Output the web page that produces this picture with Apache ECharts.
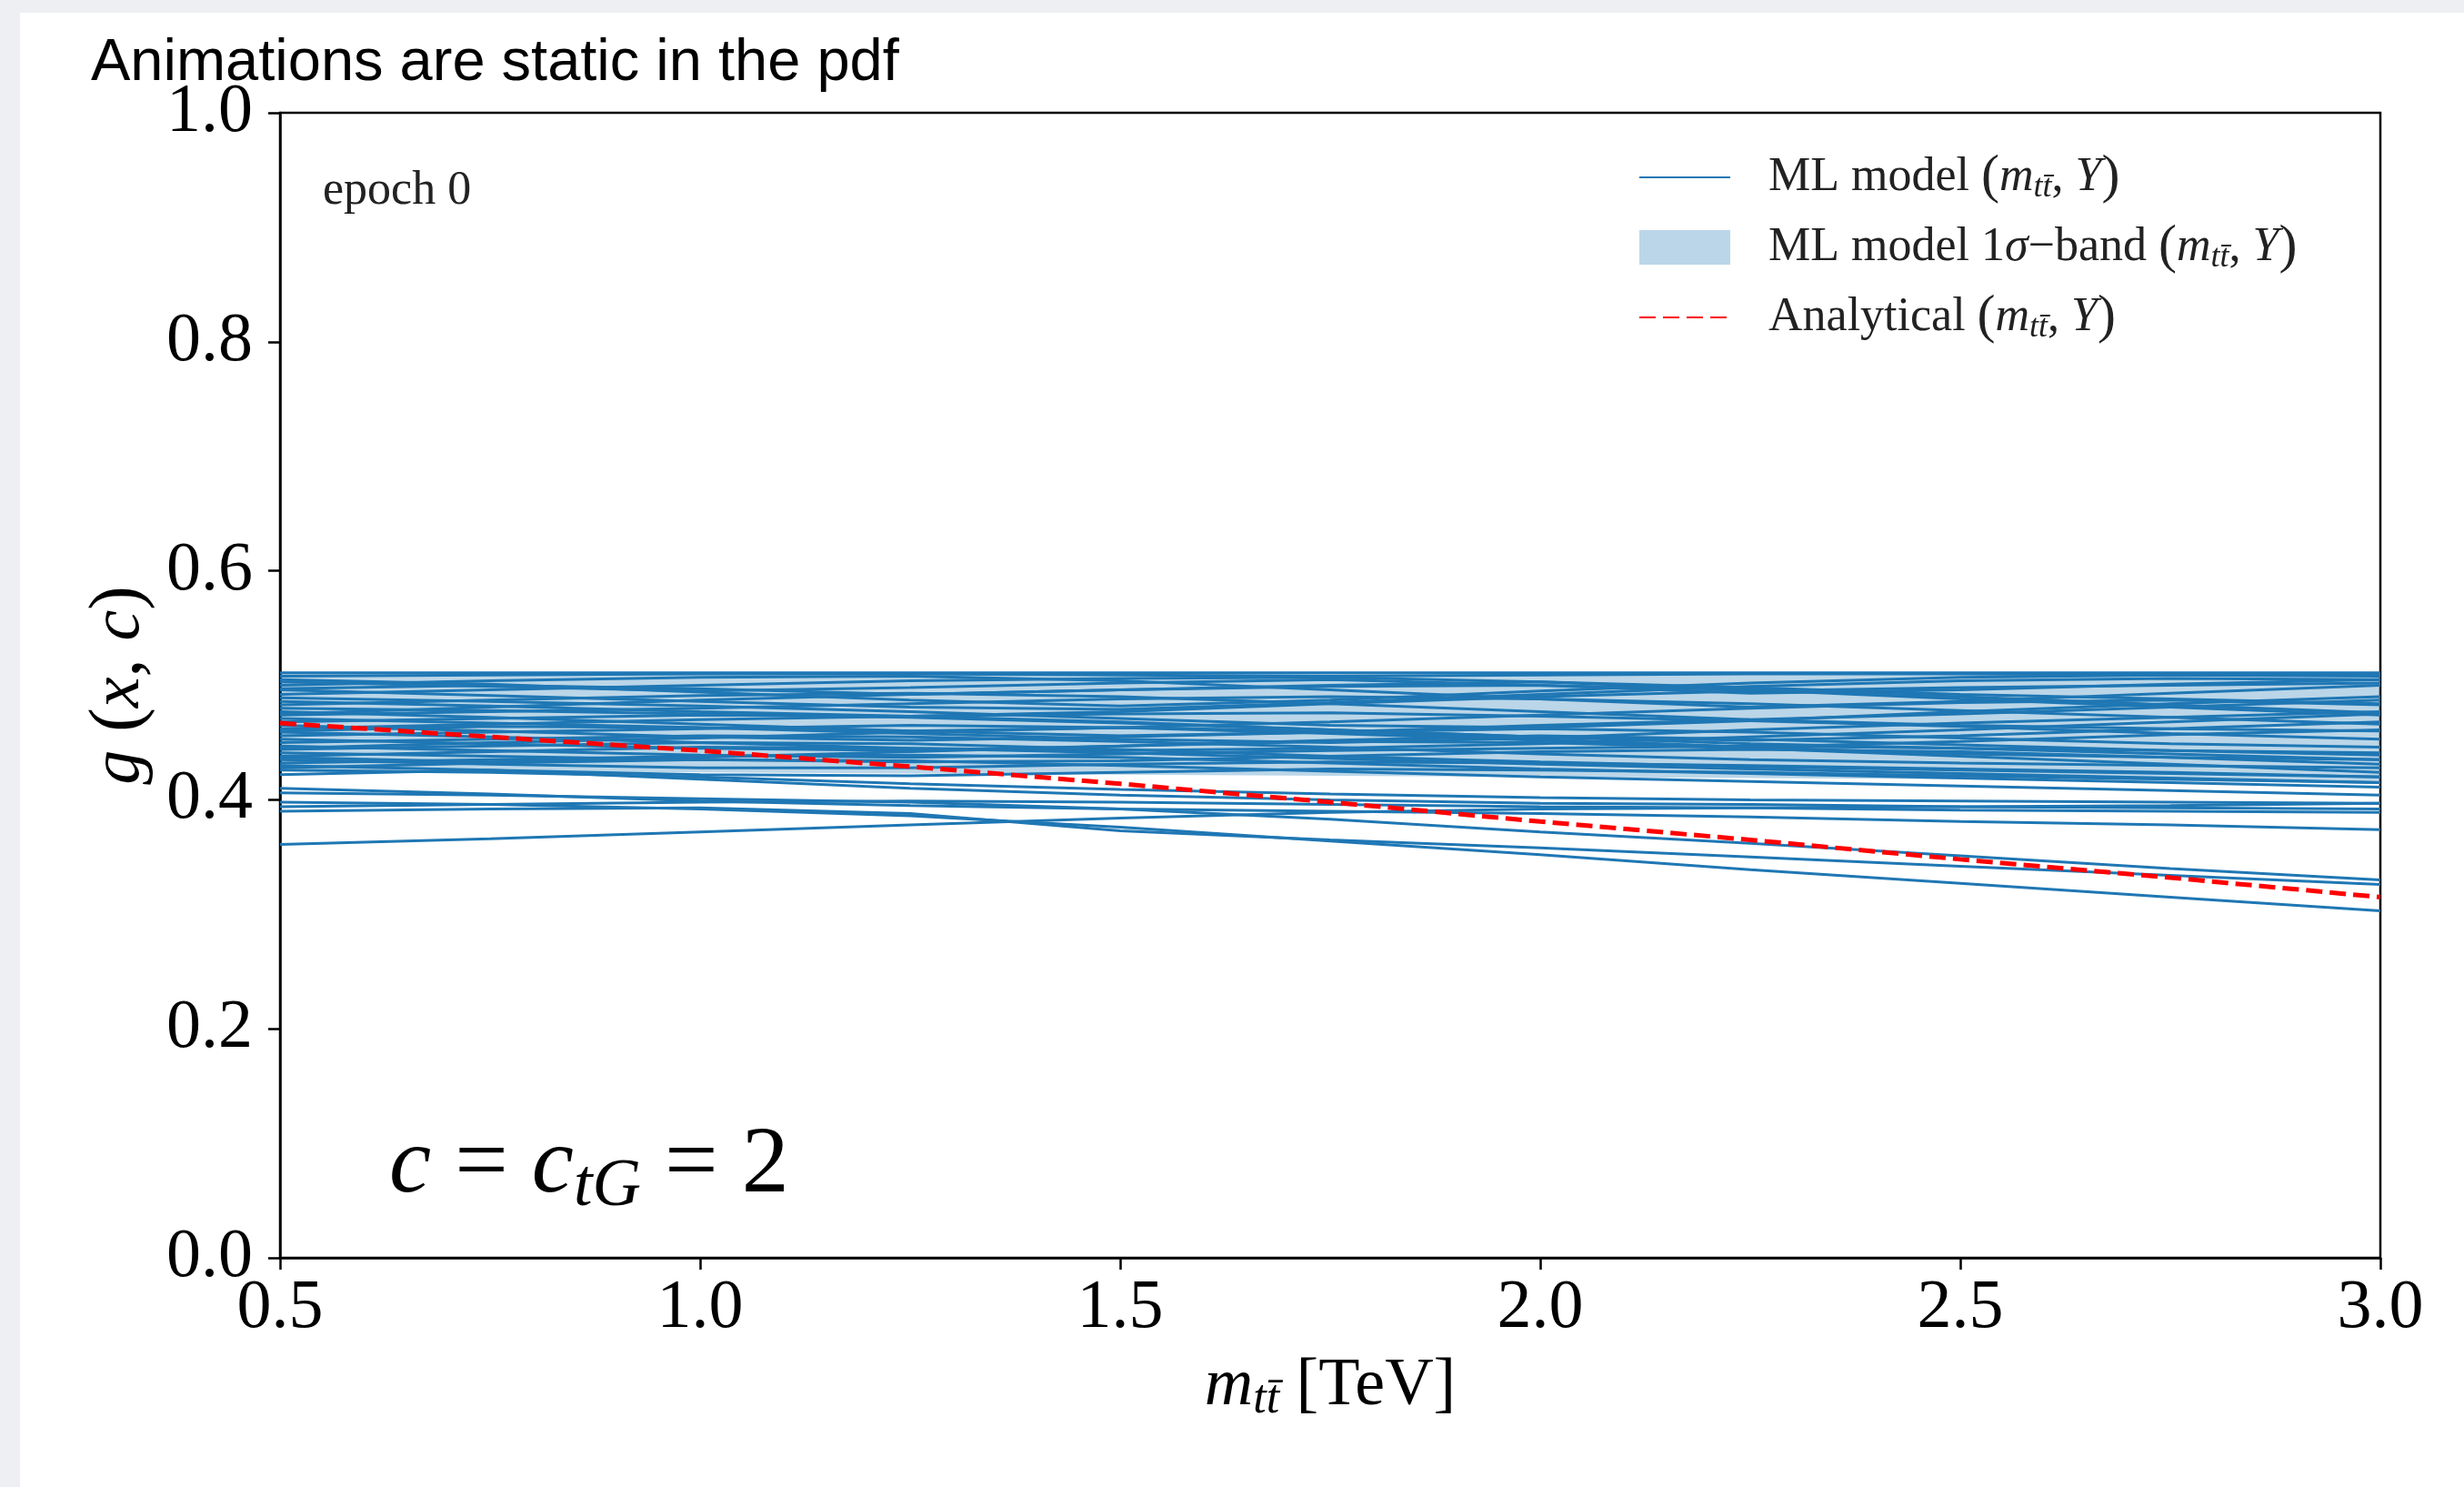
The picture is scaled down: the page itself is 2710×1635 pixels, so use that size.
<!DOCTYPE html>
<html><head><meta charset="utf-8">
<script src="https://cdn.jsdelivr.net/npm/echarts@6/dist/echarts.min.js"></script>
<style>
html,body{margin:0;padding:0;background:#eeeff3;overflow:hidden;}
#bg{position:absolute;left:22px;top:14px;width:2688px;height:1621px;background:#fff;}
#chart{position:absolute;left:0;top:0;width:2710px;height:1635px;}
</style></head><body><div id="bg"></div><div id="chart"></div>
<script>
// ---- data ----
const X_VALUES = [0.5, 0.75, 1.0, 1.25, 1.5, 1.75, 2.0, 2.25, 2.5, 2.75, 3.0];
const X_TICK_LABELS = ['0.5', '1.0', '1.5', '2.0', '2.5', '3.0'];
const Y_TICK_LABELS = ['0.0', '0.2', '0.4', '0.6', '0.8', '1.0'];

const ANALYTICAL = [0.467, 0.455, 0.443, 0.429, 0.414, 0.398, 0.381, 0.365, 0.348, 0.332, 0.315];

const BAND_LOW  = [0.426, 0.425, 0.424, 0.423, 0.422, 0.421, 0.420, 0.419, 0.418, 0.416, 0.415];
const BAND_HIGH = [0.511, 0.511, 0.511, 0.511, 0.511, 0.511, 0.511, 0.511, 0.511, 0.511, 0.511];

const ML_LINES_LOWER = [
  [0.361, 0.366, 0.372, 0.378, 0.384, 0.389, 0.392, 0.393, 0.394, 0.395, 0.397],
  [0.398, 0.396, 0.392, 0.386, 0.376, 0.364, 0.352, 0.339, 0.327, 0.315, 0.303],
  [0.390, 0.392, 0.393, 0.388, 0.373, 0.365, 0.358, 0.350, 0.342, 0.334, 0.326],
  [0.406, 0.404, 0.401, 0.398, 0.392, 0.383, 0.372, 0.362, 0.351, 0.340, 0.330],
  [0.410, 0.405, 0.399, 0.395, 0.392, 0.390, 0.388, 0.385, 0.381, 0.378, 0.374],
  [0.394, 0.396, 0.398, 0.399, 0.398, 0.396, 0.394, 0.393, 0.391, 0.390, 0.389],
  [0.422, 0.426, 0.418, 0.410, 0.404, 0.400, 0.397, 0.396, 0.394, 0.393, 0.392],
  [0.426, 0.424, 0.420, 0.414, 0.409, 0.405, 0.402, 0.400, 0.399, 0.398, 0.397]
];

const ML_LINES_UPPER = [
  [0.511, 0.511, 0.511, 0.511, 0.511, 0.511, 0.511, 0.511, 0.511, 0.511, 0.511],
  [0.508, 0.509, 0.510, 0.510, 0.509, 0.508, 0.509, 0.510, 0.510, 0.509, 0.508],
  [0.505, 0.501, 0.494, 0.487, 0.482, 0.487, 0.495, 0.502, 0.507, 0.509, 0.510],
  [0.500, 0.504, 0.507, 0.508, 0.504, 0.496, 0.488, 0.481, 0.486, 0.493, 0.500],
  [0.496, 0.491, 0.486, 0.481, 0.479, 0.485, 0.492, 0.499, 0.504, 0.506, 0.505],
  [0.492, 0.496, 0.500, 0.504, 0.506, 0.507, 0.503, 0.496, 0.488, 0.481, 0.474],
  [0.489, 0.486, 0.482, 0.477, 0.471, 0.465, 0.463, 0.469, 0.477, 0.484, 0.490],
  [0.486, 0.482, 0.477, 0.473, 0.477, 0.484, 0.490, 0.495, 0.498, 0.500, 0.502],
  [0.483, 0.487, 0.491, 0.493, 0.490, 0.484, 0.477, 0.470, 0.465, 0.462, 0.460],
  [0.480, 0.478, 0.475, 0.472, 0.467, 0.461, 0.455, 0.452, 0.456, 0.462, 0.468],
  [0.477, 0.472, 0.466, 0.460, 0.456, 0.459, 0.465, 0.470, 0.475, 0.481, 0.487],
  [0.474, 0.477, 0.480, 0.484, 0.488, 0.490, 0.488, 0.484, 0.478, 0.472, 0.466],
  [0.471, 0.467, 0.463, 0.460, 0.463, 0.468, 0.474, 0.480, 0.485, 0.487, 0.483],
  [0.468, 0.471, 0.474, 0.473, 0.468, 0.461, 0.455, 0.449, 0.445, 0.443, 0.441],
  [0.465, 0.460, 0.455, 0.452, 0.455, 0.459, 0.462, 0.459, 0.454, 0.449, 0.446],
  [0.462, 0.466, 0.470, 0.473, 0.475, 0.476, 0.473, 0.469, 0.464, 0.458, 0.453],
  [0.459, 0.455, 0.450, 0.445, 0.443, 0.445, 0.449, 0.455, 0.461, 0.468, 0.475],
  [0.456, 0.459, 0.462, 0.465, 0.463, 0.458, 0.452, 0.446, 0.440, 0.437, 0.435],
  [0.453, 0.449, 0.445, 0.443, 0.447, 0.452, 0.456, 0.453, 0.448, 0.443, 0.439],
  [0.450, 0.453, 0.456, 0.455, 0.451, 0.446, 0.440, 0.435, 0.432, 0.430, 0.428],
  [0.447, 0.443, 0.439, 0.437, 0.440, 0.443, 0.445, 0.447, 0.445, 0.440, 0.435],
  [0.444, 0.447, 0.450, 0.449, 0.444, 0.438, 0.433, 0.429, 0.426, 0.423, 0.420],
  [0.441, 0.438, 0.435, 0.433, 0.434, 0.438, 0.442, 0.444, 0.442, 0.437, 0.431],
  [0.438, 0.442, 0.446, 0.445, 0.441, 0.436, 0.431, 0.427, 0.423, 0.419, 0.415],
  [0.435, 0.431, 0.428, 0.428, 0.431, 0.433, 0.432, 0.430, 0.427, 0.424, 0.420],
  [0.432, 0.435, 0.438, 0.439, 0.437, 0.432, 0.427, 0.423, 0.419, 0.415, 0.411],
  [0.430, 0.426, 0.422, 0.421, 0.424, 0.427, 0.426, 0.424, 0.421, 0.418, 0.415],
  [0.428, 0.432, 0.435, 0.434, 0.430, 0.425, 0.420, 0.416, 0.412, 0.408, 0.404],
  [0.497, 0.500, 0.497, 0.492, 0.496, 0.500, 0.503, 0.498, 0.492, 0.488, 0.484],
  [0.503, 0.499, 0.495, 0.498, 0.502, 0.505, 0.500, 0.493, 0.496, 0.501, 0.505],
  [0.475, 0.481, 0.487, 0.492, 0.496, 0.499, 0.500, 0.496, 0.490, 0.483, 0.476],
  [0.460, 0.464, 0.463, 0.458, 0.453, 0.450, 0.454, 0.461, 0.467, 0.472, 0.477],
  [0.445, 0.450, 0.454, 0.459, 0.463, 0.460, 0.453, 0.446, 0.451, 0.457, 0.461],
  [0.437, 0.433, 0.437, 0.442, 0.447, 0.451, 0.450, 0.445, 0.438, 0.431, 0.424]
];

// ---- styling ----
const BLUE = '#1f77b4';
const BAND_COLOR = 'rgba(31,119,180,0.3)';
const SERIF = '"Liberation Serif", "DejaVu Serif", serif';
const SANS = '"Liberation Sans", Arial, sans-serif';

const NAME_ML = 'ML model';
const NAME_BAND = 'ML band';
const NAME_AN = 'Analytical';
const TBAR = 't\u0074\u0304';

const LEGEND_TEXT = {};
LEGEND_TEXT[NAME_ML] = '{sp|}{r|ML model }{p|(}{i|m}{s|' + TBAR + '}{r|, }{i|Y}{p|)}';
LEGEND_TEXT[NAME_BAND] = '{sp|}{r|ML model 1}{i|\u03c3}{r|\u2212band }{p|(}{i|m}{s|' + TBAR + '}{r|, }{i|Y}{p|)}';
LEGEND_TEXT[NAME_AN] = '{sp|}{r|Analytical }{p|(}{i|m}{s|' + TBAR + '}{r|, }{i|Y}{p|)}';

const pairs = vals => X_VALUES.map((x, i) => [x, vals[i]]);

const series = [];
// 1-sigma band as a filled polygon between BAND_LOW and BAND_HIGH
series.push({
  name: NAME_BAND, type: 'custom', silent: true, z: 1,
  itemStyle: { color: BAND_COLOR },
  data: X_VALUES.map((x, i) => [x, BAND_LOW[i], BAND_HIGH[i]]),
  encode: { x: 0, y: [1, 2] },
  renderItem: (params, api) => {
    if (params.dataIndex !== 0) return null;
    const pts = [];
    X_VALUES.forEach((x, i) => pts.push(api.coord([x, BAND_HIGH[i]])));
    for (let i = X_VALUES.length - 1; i >= 0; i--) pts.push(api.coord([X_VALUES[i], BAND_LOW[i]]));
    return {
      type: 'polygon', shape: { points: pts },
      style: { fill: BAND_COLOR, stroke: null }
    };
  }
});
[...ML_LINES_LOWER, ...ML_LINES_UPPER].forEach(vals => {
  series.push({
    name: NAME_ML, type: 'line', data: pairs(vals), symbol: 'none',
    lineStyle: { color: BLUE, width: 3 }, itemStyle: { color: BLUE },
    silent: true, z: 3
  });
});
series.push({
  name: NAME_AN, type: 'line', data: pairs(ANALYTICAL), symbol: 'none',
  lineStyle: { color: '#ff0000', width: 5, type: [18, 8] }, itemStyle: { color: '#ff0000' },
  silent: true, z: 5
});

const legendRich = {
  sp: { width: 37 },
  r: { fontFamily: SERIF, fontSize: 52, lineHeight: 60, color: '#222' },
  p: { fontFamily: SERIF, fontSize: 60, lineHeight: 60, color: '#222' },
  i: { fontFamily: SERIF, fontSize: 52, lineHeight: 60, fontStyle: 'italic', color: '#222' },
  s: { fontFamily: SERIF, fontSize: 36, lineHeight: 30, fontStyle: 'italic', verticalAlign: 'bottom', color: '#222' }
};

const chart = echarts.init(document.getElementById('chart'), null, { renderer: 'canvas' });
chart.setOption({
  animation: false,
  backgroundColor: 'transparent',
  grid: { left: 308, right: 92, top: 124, bottom: 252, show: true, borderColor: '#000', borderWidth: 2.5 },
  xAxis: {
    type: 'value', min: 0.5, max: 3.0, interval: 0.5,
    axisLine: { show: true, onZero: false, lineStyle: { color: '#000', width: 2.5 } },
    axisTick: { show: true, length: 13, lineStyle: { color: '#000', width: 2.5 } },
    splitLine: { show: false },
    axisLabel: {
      margin: 18, color: '#000', fontFamily: SERIF, fontSize: 76,
      formatter: v => X_TICK_LABELS[Math.round((v - 0.5) / 0.5)]
    },
    name: '{i|m}{s|' + TBAR + '}{r| [TeV]}',
    nameLocation: 'middle', nameGap: 102,
    nameTextStyle: {
      rich: {
        i: { fontFamily: SERIF, fontSize: 74, lineHeight: 80, fontStyle: 'italic', color: '#000' },
        r: { fontFamily: SERIF, fontSize: 74, lineHeight: 80, color: '#000' },
        s: { fontFamily: SERIF, fontSize: 52, lineHeight: 36, fontStyle: 'italic', verticalAlign: 'bottom', color: '#000' }
      }
    }
  },
  yAxis: {
    type: 'value', min: 0, max: 1, interval: 0.2,
    axisLine: { show: true, lineStyle: { color: '#000', width: 2.5 } },
    axisTick: { show: true, length: 13, lineStyle: { color: '#000', width: 2.5 } },
    splitLine: { show: false },
    axisLabel: {
      margin: 30, color: '#000', fontFamily: SERIF, fontSize: 76,
      formatter: v => Y_TICK_LABELS[Math.round(v / 0.2)]
    },
    name: '{i|g}{r| (}{i|x}{r|, }{i|c}{r|)}',
    nameLocation: 'middle', nameGap: 108, nameRotate: 90,
    nameTextStyle: {
      rich: {
        i: { fontFamily: SERIF, fontSize: 76, lineHeight: 80, fontStyle: 'italic', color: '#000' },
        r: { fontFamily: SERIF, fontSize: 80, lineHeight: 80, color: '#000' }
      }
    }
  },
  legend: {
    orient: 'vertical', left: 1797, top: 160,
    itemWidth: 100, itemHeight: 38, itemGap: 17,
    selectedMode: false,
    data: [
      { name: NAME_ML, itemStyle: { color: 'rgba(0,0,0,0)', borderWidth: 0 } },
      { name: NAME_BAND, icon: 'rect', itemStyle: { color: BAND_COLOR, borderWidth: 0, opacity: 1 } },
      { name: NAME_AN, itemStyle: { color: 'rgba(0,0,0,0)', borderWidth: 0 } }
    ],
    formatter: n => LEGEND_TEXT[n],
    textStyle: { fontFamily: SERIF, fontSize: 52, color: '#222', rich: legendRich }
  },
  graphic: [
    {
      type: 'text', left: 100, top: 38, z: 10,
      style: { text: 'Animations are static in the pdf', font: '65px ' + SANS, fill: '#000' }
    },
    {
      type: 'text', x: 355, y: 210, z: 10,
      style: { text: 'epoch 0', font: '52px ' + SERIF, fill: '#222', verticalAlign: 'middle' }
    },
    {
      type: 'text', x: 428, y: 1283, z: 10,
      style: {
        text: '{i|c}{r| = }{i|c}{s|tG}{r| = 2}', verticalAlign: 'middle',
        rich: {
          i: { fontFamily: SERIF, fontSize: 104, lineHeight: 120, fontStyle: 'italic', fill: '#000' },
          r: { fontFamily: SERIF, fontSize: 104, lineHeight: 120, fill: '#000' },
          s: { fontFamily: SERIF, fontSize: 74, lineHeight: 44, fontStyle: 'italic', verticalAlign: 'bottom', fill: '#000' }
        }
      }
    }
  ],
  series: series
});
</script></body></html>
